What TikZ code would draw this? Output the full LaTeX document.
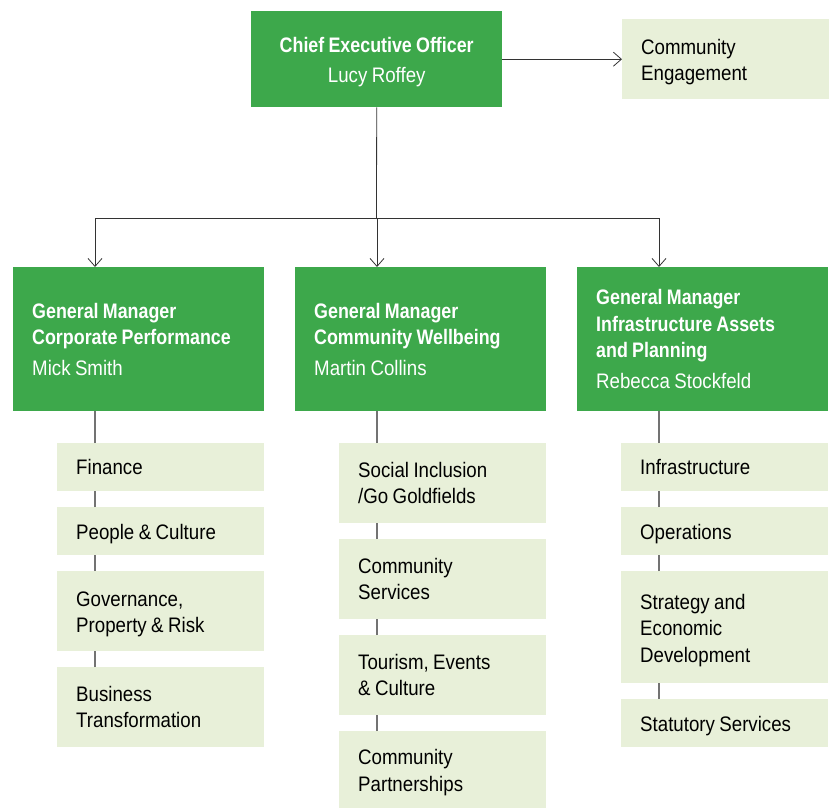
\documentclass[tikz,border=0pt]{standalone}
\usepackage{fontspec}
\setmainfont[FakeStretch=0.89,WordSpace=0.85,BoldFeatures={FakeStretch=0.85}]{Liberation Sans}
\usetikzlibrary{arrows.meta}
\definecolor{leafgreen}{HTML}{3DA84B}
\definecolor{palegreen}{HTML}{E8F0D9}
\newcommand{\orgsize}{\fontsize{21}{26.5}\selectfont}
\newcommand{\lift}{\rule{0pt}{21pt}}

\begin{document}
\begin{tikzpicture}
[x=1pt,y=-1pt,
					box/.style={anchor=north west,inner xsep=19pt,inner ysep=0pt,align=flush left,font=\orgsize},
					drop/.style={execute at begin node=\lift},
					ceo/.style={box,drop,fill=leafgreen,text=white,align=flush center,inner xsep=0pt,text width=251pt,minimum height=96pt},
					head/.style={box,fill=leafgreen,text=white,minimum height=144pt,text width=213pt},
					unit/.style={box,fill=palegreen,text=black,text width=169pt},
					link/.style={draw=black!80,line width=0.8pt},
					feed/.style={link,-{Straight Barb[length=8pt,width=14pt]}},
					stem/.style={draw=black!55,line width=1.2pt}]
					\useasboundingbox (0,0) rectangle (833,808);
					% top
					\node[ceo] (ceo) at (251,11) {\textbf{Chief Executive Officer}\\[3pt]Lucy Roffey};
					\node[unit,drop,minimum height=80pt] (ce) at (622,19) {Community\\Engagement};
					% general managers
					\node[head] (gm1) at (13,267) {\textbf{General Manager}\\\textbf{Corporate Performance}\\[4pt]Mick Smith};
					\node[head] (gm2) at (295,267) {\textbf{General Manager}\\\textbf{Community Wellbeing}\\[4pt]Martin Collins};
					\node[head] (gm3) at (577,267) {\textbf{General Manager}\\\textbf{Infrastructure Assets}\\\textbf{and Planning}\\[4pt]Rebecca Stockfeld};
					% units
					\node[unit,minimum height=48pt] (fin) at (57,443) {Finance};
					\node[unit,drop,minimum height=48pt] (pc) at (57,507) {People \& Culture};
					\node[unit,drop,minimum height=80pt] (gov) at (57,571) {Governance,\\Property \& Risk};
					\node[unit,minimum height=80pt] (bt) at (57,667) {Business\\Transformation};
					\node[unit,minimum height=80pt] (soc) at (339,443) {Social Inclusion\\/Go Goldfields};
					\node[unit,minimum height=80pt] (cs) at (339,539) {Community\\Services};
					\node[unit,minimum height=80pt] (tec) at (339,635) {Tourism, Events\\\& Culture};
					\node[unit,drop,minimum height=77pt] (cp) at (339,731) {Community\\Partnerships};
					\node[unit,minimum height=48pt] (inf) at (621,443) {Infrastructure};
					\node[unit,drop,minimum height=48pt] (ops) at (621,507) {Operations};
					\node[unit,drop,minimum height=112pt] (sed) at (621,571) {Strategy and\\Economic\\Development};
					\node[unit,drop,minimum height=48pt] (stat) at (621,699) {Statutory Services};
					% connectors
					\coordinate (bus) at (376.5,218);
					\draw[feed] (ceo.east) -- (ce.west);
					\draw[link] (ceo.south) -- (bus);
					\draw[link] ([xshift=82pt]gm1.north west |- bus) -- ([xshift=82pt]gm3.north west |- bus);
					\foreach \g in {gm1,gm2,gm3}
						\draw[feed] ([xshift=82pt]\g.north west |- bus) -- ([xshift=82pt]\g.north west);
					\foreach \a/\b in {gm1/fin,fin/pc,pc/gov,gov/bt,gm2/soc,soc/cs,cs/tec,tec/cp,gm3/inf,inf/ops,ops/sed,sed/stat}
						\draw[stem] ([xshift=38pt]\b.north west) -- ([xshift=38pt]\b.north west |- \a.south);
				\end{tikzpicture}
\end{document}
